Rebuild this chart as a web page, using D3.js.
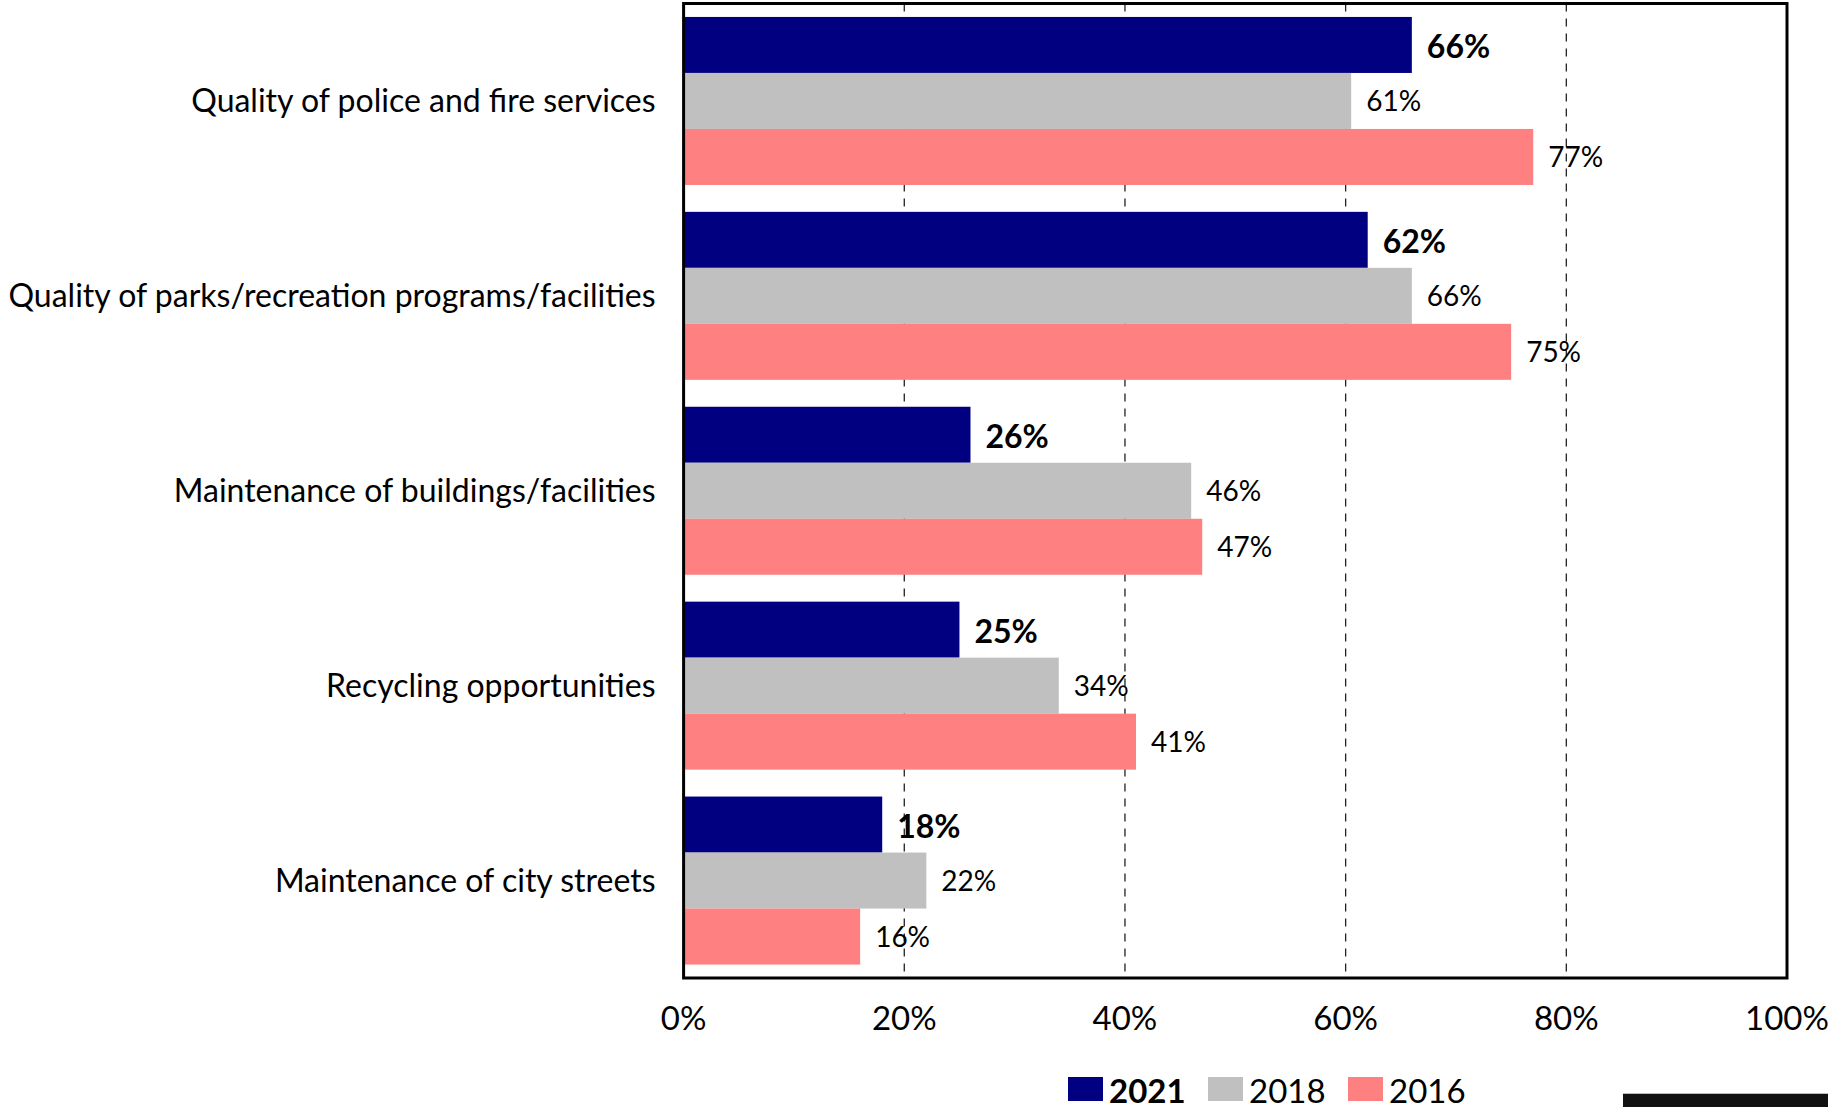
<!DOCTYPE html>
<html>
<head>
<meta charset="utf-8">
<script src="https://cdn.jsdelivr.net/npm/d3@7"></script>
<style>
  body { margin: 0; background: #fff; }
  svg { display: block; font-family: Lato, "Open Sans", sans-serif; }
</style>
</head>
<body>
<div id="chart"></div>
<script>
// categories, top to bottom
var categories = [
  'Quality of police and fire services',
  'Quality of parks/recreation programs/facilities',
  'Maintenance of buildings/facilities',
  'Recycling opportunities',
  'Maintenance of city streets'
];
var years = ['2021', '2018', '2016'];
var values2021 = [66, 62, 26, 25, 18];
var values2018 = [60.5, 66, 46, 34, 22];
var values2016 = [77, 75, 47, 41, 16];
var xTicks = [0, 20, 40, 60, 80, 100];
var colors = ['#000080', '#c0c0c0', '#ff8080'];

var W = 1828, H = 1107;
var plot = { left: 683.6, top: 3.5, right: 1787, bottom: 978 };

var svg = d3.select('#chart')
  .append('svg')
  .attr('width', W)
  .attr('height', H);

svg.append('rect').attr('width', W).attr('height', H).attr('fill', '#fff');

var x = d3.scaleLinear().domain([0, 100]).range([plot.left, plot.right]);
var y = d3.scaleBand()
  .domain(categories)
  .range([plot.top, plot.bottom])
  .paddingInner(0.138)
  .paddingOuter(0.069);
var ySub = d3.scaleBand().domain(years).range([0, y.bandwidth()]);

//build rows
var series = [values2021, values2018, values2016];
var rows = [];
categories.forEach(function(c, i) {
  years.forEach(function(yr, j) {
    rows.push({ cat: c, year: yr, idx: j, value: series[j][i] });
  });
});

//dashed gridlines
svg.append('g')
  .selectAll('line')
  .data(xTicks.filter(function(d) { return d > 0 && d < 100; }))
  .enter()
  .append('line')
  .attr('x1', function(d) { return x(d); })
  .attr('x2', function(d) { return x(d); })
  .attr('y1', plot.top)
  .attr('y2', plot.bottom)
  .attr('stroke', '#222')
  .attr('stroke-width', 1.3)
  .attr('stroke-dasharray', '8,7');

//bars
svg.append('g')
  .selectAll('rect')
  .data(rows)
  .enter()
  .append('rect')
  .attr('x', x(0))
  .attr('y', function(d) { return y(d.cat) + ySub(d.year); })
  .attr('width', function(d) { return x(d.value) - x(0); })
  .attr('height', ySub.bandwidth())
  .attr('fill', function(d) { return colors[d.idx]; });

//value labels
svg.append('g')
  .selectAll('text')
  .data(rows)
  .enter()
  .append('text')
  .attr('x', function(d) { return x(d.value) + 15; })
  .attr('y', function(d) {
    var c = y(d.cat) + ySub(d.year) + ySub.bandwidth() / 2;
    return d.idx === 0 ? c + 13.5 : c + 10;
  })
  .attr('font-size', function(d) { return d.idx === 0 ? 32 : 28; })
  .attr('font-weight', function(d) { return d.idx === 0 ? 'bold' : 'normal'; })
  .attr('fill', '#000')
  .text(function(d) { return Math.round(d.value) + '%'; });

//category labels
svg.append('g')
  .selectAll('text')
  .data(categories)
  .enter()
  .append('text')
  .attr('x', plot.left - 28)
  .attr('y', function(d) { return y(d) + y.bandwidth() / 2 + 11; })
  .attr('text-anchor', 'end')
  .attr('font-size', 32)
  .attr('fill', '#000')
  .text(function(d) { return d; });

//plot frame
svg.append('rect')
  .attr('x', plot.left)
  .attr('y', plot.top)
  .attr('width', plot.right - plot.left)
  .attr('height', plot.bottom - plot.top)
  .attr('fill', 'none')
  .attr('stroke', '#000')
  .attr('stroke-width', 3);

//x axis labels
svg.append('g')
  .selectAll('text')
  .data(xTicks)
  .enter()
  .append('text')
  .attr('x', function(d) { return x(d); })
  .attr('y', 1030)
  .attr('text-anchor', 'middle')
  .attr('font-size', 33)
  .attr('fill', '#000')
  .text(function(d) { return d + '%'; });

//legend
var legendX = [1068, 1208, 1348];
var legend = svg.append('g')
  .selectAll('g')
  .data(years)
  .enter()
  .append('g')
  .attr('transform', function(d, i) { return 'translate(' + legendX[i] + ',1077)'; });

legend.append('rect')
  .attr('width', 35)
  .attr('height', 24)
  .attr('fill', function(d, i) { return colors[i]; });

legend.append('text')
  .attr('x', 41)
  .attr('y', 25.5)
  .attr('font-size', 33)
  .attr('font-weight', function(d, i) { return i === 0 ? 'bold' : 'normal'; })
  .attr('fill', '#000')
  .text(function(d) { return d; });

//dark strip in the bottom right corner
svg.append('rect')
  .attr('x', 1623)
  .attr('y', 1093)
  .attr('width', W - 1623)
  .attr('height', H - 1093)
  .attr('fill', '#111');
svg.append('line')
  .attr('x1', 1623).attr('x2', W)
  .attr('y1', 1093.5).attr('y2', 1093.5)
  .attr('stroke', '#bbb')
  .attr('stroke-width', 1);
</script>
</body>
</html>
